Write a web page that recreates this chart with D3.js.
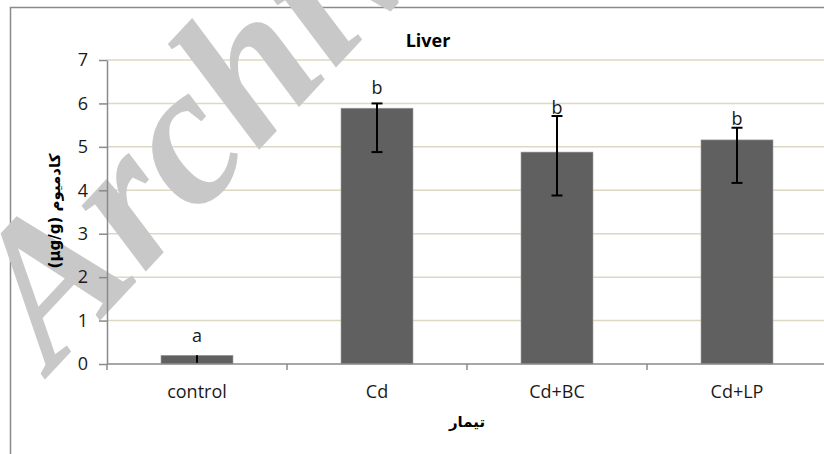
<!DOCTYPE html>
<html>
<head>
<meta charset="utf-8">
<script src="https://cdn.jsdelivr.net/npm/d3@7"></script>
<style>
  body { margin: 0; background: #fff; }
  svg { display: block; }
</style>
</head>
<body>
<div id="chart"></div>
<script>
const categories = ['control', 'Cd', 'Cd+BC', 'Cd+LP'];
const values = [0.2, 5.89, 4.88, 5.16];
const errPlus = [0, 0.11, 0.83, 0.28];
const errMinus = [0.17, 1.01, 1.0, 0.99];
const letters = ['a', 'b', 'b', 'b'];
const letterY = [0.51, 6.22, 5.76, 5.5];
const yTicks = [0, 1, 2, 3, 4, 5, 6, 7];

const W = 824, H = 454;
const plotLeft = 107, plotRight = 827, plotTop = 60, plotBottom = 364;
const textFont = '"Open Sans", sans-serif';

const svg = d3.select('#chart').append('svg')
  .attr('width', W)
  .attr('height', H);

// outer frame (cropped at right and bottom)
svg.append('path')
  .attr('d', `M10.5,${H + 2} V7.5 H${W + 2}`)
  .attr('fill', 'none')
  .attr('stroke', '#8a8a8a')
  .attr('stroke-width', 1.5);

const x = d3.scaleBand()
  .domain(categories)
  .range([plotLeft, plotRight])
  .paddingInner(0.6)
  .paddingOuter(0.3);

const y = d3.scaleLinear()
  .domain([0, 7])
  .range([plotBottom, plotTop]);

const rows = categories.map((c, i) => ({
  cat: c, v: values[i], hi: values[i] + errPlus[i], lo: values[i] - errMinus[i],
  letter: letters[i], ly: letterY[i]
}));

// gridlines
svg.append('g')
  .selectAll('line')
  .data(yTicks.filter(t => t > 0))
  .enter().append('line')
  .attr('x1', plotLeft).attr('x2', plotRight)
  .attr('y1', d => y(d)).attr('y2', d => y(d))
  .attr('stroke', '#ddd8c3')
  .attr('stroke-width', 1.5);

// watermark
svg.append('text')
  .attr('transform', 'translate(52,372) rotate(-47)')
  .attr('font-family', '"Liberation Serif", serif')
  .attr('font-weight', 'bold')
  .attr('font-style', 'italic')
  .attr('font-size', 200)
  .attr('fill', '#c8c8c8')
  .text('Archive');

// bars
svg.append('g')
  .selectAll('rect')
  .data(rows)
  .enter().append('rect')
  .attr('x', d => x(d.cat))
  .attr('y', d => y(d.v))
  .attr('width', x.bandwidth())
  .attr('height', d => y(0) - y(d.v))
  .attr('fill', '#606060')
  .attr('stroke', '#a0a0a0')
  .attr('stroke-width', 0.6);

// y axis
const yAxis = svg.append('g')
  .attr('transform', `translate(${plotLeft},0)`)
  .call(d3.axisLeft(y).tickValues(yTicks).tickFormat(d3.format('d'))
    .tickSize(8).tickSizeOuter(0).tickPadding(11));
yAxis.select('.domain').attr('stroke', '#8a8a8a').attr('stroke-width', 1.5);
yAxis.selectAll('.tick line').attr('stroke', '#8a8a8a').attr('stroke-width', 1.5);
yAxis.selectAll('.tick text')
  .attr('font-family', textFont)
  .attr('font-size', 18)
  .attr('fill', '#1a1a1a');

// x axis line and boundary ticks
const step = x.step();
const bounds = [plotLeft].concat(categories.map(c => x(c) + x.bandwidth() + (step - x.bandwidth()) / 2));
svg.append('line')
  .attr('x1', plotLeft).attr('x2', plotRight)
  .attr('y1', y(0)).attr('y2', y(0))
  .attr('stroke', '#8a8a8a').attr('stroke-width', 1.5);
svg.append('g')
  .selectAll('line')
  .data(bounds)
  .enter().append('line')
  .attr('x1', d => d).attr('x2', d => d)
  .attr('y1', y(0)).attr('y2', y(0) + 6)
  .attr('stroke', '#8a8a8a').attr('stroke-width', 1.5);

svg.append('g')
  .selectAll('text')
  .data(categories)
  .enter().append('text')
  .attr('x', d => x(d) + x.bandwidth() / 2)
  .attr('y', 398)
  .attr('text-anchor', 'middle')
  .attr('font-family', textFont)
  .attr('font-size', 18)
  .attr('fill', '#1a1a1a')
  .text(d => d);

// error bars
const eb = svg.append('g').attr('stroke', '#000').attr('stroke-width', 2);
eb.selectAll('.stem')
  .data(rows)
  .enter().append('line')
  .attr('x1', d => x(d.cat) + x.bandwidth() / 2)
  .attr('x2', d => x(d.cat) + x.bandwidth() / 2)
  .attr('y1', d => y(d.hi))
  .attr('y2', d => y(d.lo));
const capped = rows.filter(d => d.hi - d.lo > 0.3);
['hi', 'lo'].forEach(k => {
  eb.selectAll('.cap-' + k)
    .data(capped)
    .enter().append('line')
    .attr('class', 'cap-' + k)
    .attr('x1', d => x(d.cat) + x.bandwidth() / 2 - 5.5)
    .attr('x2', d => x(d.cat) + x.bandwidth() / 2 + 5.5)
    .attr('y1', d => y(d[k]))
    .attr('y2', d => y(d[k]));
});

// significance letters
svg.append('g')
  .selectAll('text')
  .data(rows)
  .enter().append('text')
  .attr('x', d => x(d.cat) + x.bandwidth() / 2)
  .attr('y', d => y(d.ly))
  .attr('text-anchor', 'middle')
  .attr('font-family', textFont)
  .attr('font-size', 18)
  .attr('fill', '#1a1a1a')
  .text(d => d.letter);

// title
svg.append('text')
  .attr('x', 428)
  .attr('y', 47)
  .attr('text-anchor', 'middle')
  .attr('font-family', textFont)
  .attr('font-weight', 'bold')
  .attr('font-size', 18)
  .attr('fill', '#000')
  .text('Liver');

// axis titles
svg.append('text')
  .attr('x', 467)
  .attr('y', 427)
  .attr('text-anchor', 'middle')
  .attr('font-family', '"DejaVu Sans", sans-serif')
  .attr('font-weight', 'bold')
  .attr('font-size', 15)
  .attr('fill', '#000')
  .text('تیمار');

svg.append('text')
  .attr('transform', 'translate(60,211) rotate(-90)')
  .attr('text-anchor', 'middle')
  .attr('font-family', '"DejaVu Sans", sans-serif')
  .attr('font-weight', 'bold')
  .attr('font-size', 15)
  .attr('fill', '#000')
  .text('(µg/g) کادمیوم');
</script>
</body>
</html>
